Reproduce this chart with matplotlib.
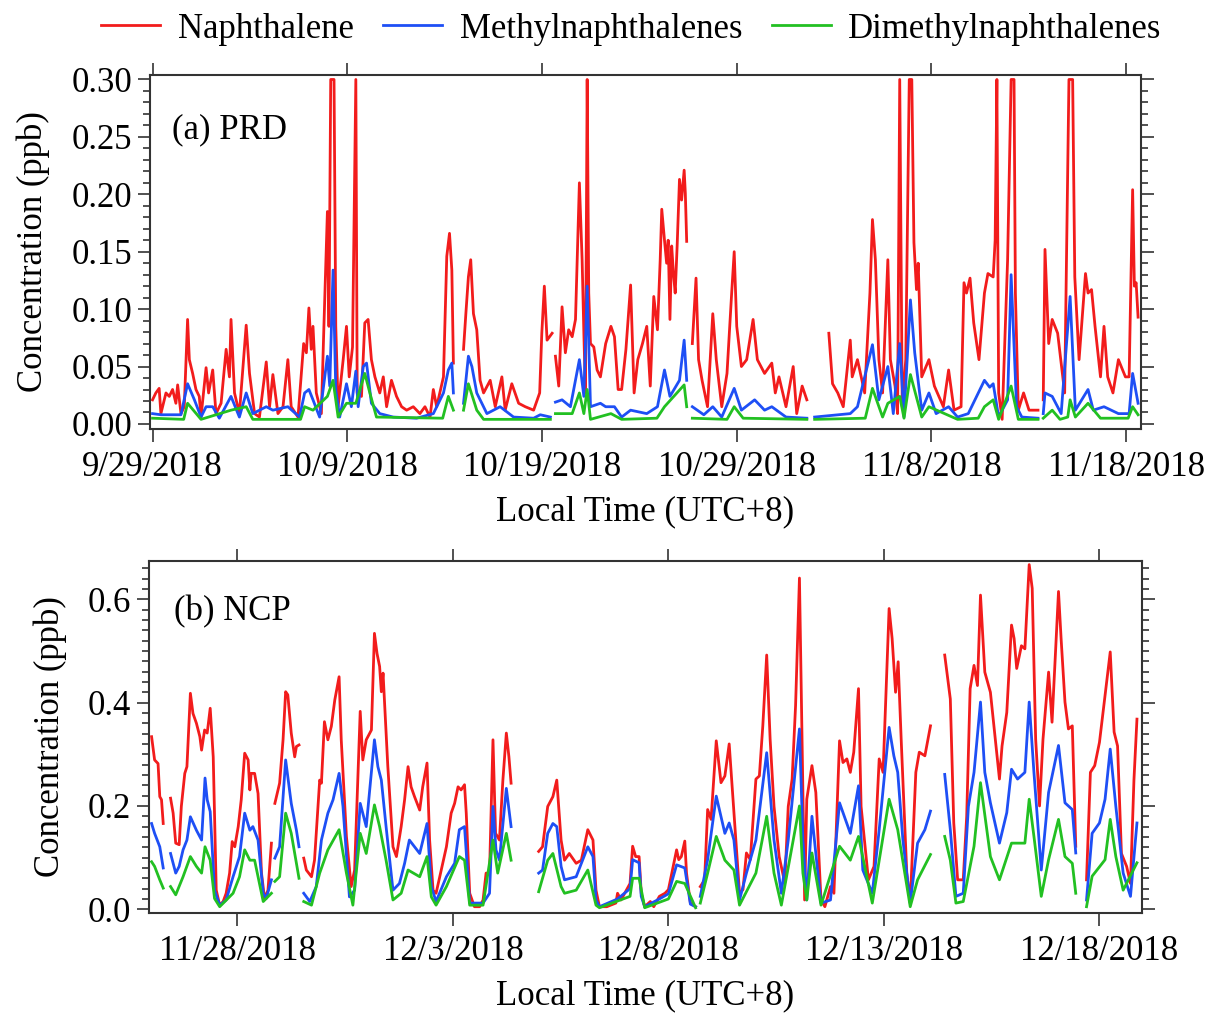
import numpy as np
import pandas as pd
import matplotlib
matplotlib.use('Agg')
import matplotlib.pyplot as plt
from matplotlib.ticker import MultipleLocator

plt.rcParams['font.family'] = 'Liberation Serif'
plt.rcParams['font.size'] = 25

nan = np.nan

# PRD: (days after 9/29/2018 00:00, ppb)
prd_nap = [
    (0.00, .021), (0.17, .027), (0.34, .031), (0.43, .009), (0.69, .027), (0.86, .024), (1.03, .030),
    (1.20, .018), (1.29, .034), (1.46, .009), (1.63, .015), (1.80, .091), (1.89, .056), (2.06, .044),
    (2.23, .030), (2.40, .024), (2.49, .006), (2.75, .049), (2.88, .027), (3.09, .047), (3.26, .009),
    (3.52, .018), (3.78, .065), (3.95, .041), (4.03, .091), (4.21, .027), (4.46, .009), (4.81, .086),
    (4.98, .044), (5.24, .009), (5.49, .006), (5.84, .054), (6.01, .015), (6.18, .043), (6.44, .009),
    (6.70, .015), (6.95, .056), (7.12, .015), (7.47, .006), (7.76, .070), (7.90, .062), (8.03, .101),
    (8.15, .065), (8.24, .085), (8.41, .027), (8.67, .009), (8.79, .079), (8.98, .185), (9.06, .085),
    (9.15, .300), (9.32, .300), (9.41, .085), (9.53, .015), (9.79, .056), (9.96, .085), (10.10, .041),
    (10.27, .067), (10.44, .300), (10.51, .027), (10.73, .024), (10.90, .088), (11.07, .091), (11.24, .056),
    (11.42, .041), (11.67, .027), (11.85, .041), (12.02, .015), (12.27, .038), (12.53, .024), (12.79, .015),
    (13.05, .012), (13.39, .015), (13.73, .009), (13.99, .015), (14.25, .006), (14.42, .030), (14.59, .015),
    (14.94, .041), (15.11, .146), (15.25, .166), (15.37, .134), (15.45, .053), (15.70, nan),
    (15.97, .065), (16.09, .096), (16.22, .128), (16.34, .143), (16.48, .096), (16.65, .082), (16.82, .038),
    (17.00, .027), (17.34, .038), (17.60, .015), (17.94, .041), (18.11, .012), (18.45, .035), (18.80, .018),
    (19.14, .015), (19.57, .012), (19.88, .027), (19.99, .079), (20.12, .120), (20.26, .073), (20.39, .076),
    (20.52, .079), (20.60, nan),
    (20.69, .059), (20.86, .033), (21.03, .102), (21.20, .062), (21.37, .082), (21.55, .076), (21.72, .091),
    (21.92, .210), (22.06, .143), (22.15, .079), (22.23, .027), (22.32, .300), (22.40, .114), (22.49, .070),
    (22.66, .067), (22.83, .047), (23.00, .041), (23.27, .070), (23.54, .085), (23.72, .076), (23.91, .030),
    (24.09, .030), (24.31, .065), (24.55, .121), (24.73, .027), (24.92, .056), (25.16, .070), (25.38, .085),
    (25.56, .033), (25.74, .111), (25.93, .082), (26.07, .143), (26.15, .187), (26.29, .160), (26.40, .140),
    (26.48, .160), (26.57, .091), (26.66, .155), (26.75, .131), (26.84, .114), (26.94, .155), (27.06, .213),
    (27.17, .195), (27.30, .221), (27.36, .201), (27.43, .159), (27.55, nan),
    (27.72, .070), (27.91, .127), (28.04, .056), (28.22, .038), (28.50, .015), (28.77, .096), (28.95, .056),
    (29.23, .015), (29.50, .044), (29.74, .114), (29.87, .150), (30.00, .085), (30.24, .050), (30.51, .056),
    (30.84, .091), (31.06, .056), (31.43, .044), (31.80, .053), (31.98, .027), (32.17, .041), (32.53, .015),
    (32.90, .050), (33.08, .009), (33.36, .033), (33.60, .021), (34.20, nan),
    (34.73, .079), (34.92, .035), (35.19, .027), (35.47, .015), (35.83, .073), (35.93, .041), (36.20, .056),
    (36.57, .027), (36.84, .114), (36.97, .178), (37.12, .143), (37.30, .056), (37.49, .027), (37.76, .143),
    (37.89, .056), (38.13, .033), (38.26, .009), (38.37, .300), (38.50, .015), (38.68, .056), (38.86, .300),
    (38.99, .300), (39.10, .158), (39.23, .117), (39.32, .140), (39.50, .041), (39.87, .056), (40.15, .033),
    (40.61, .015), (40.88, .047), (41.16, .012), (41.52, .015), (41.67, .123), (41.80, .114), (41.98, .127),
    (42.17, .088), (42.44, .056), (42.72, .114), (42.90, .131), (43.17, .128), (43.27, .160), (43.36, .300),
    (43.45, .027), (43.63, .004), (43.91, .143), (44.09, .300), (44.24, .300), (44.31, .114), (44.46, .012),
    (44.73, .027), (45.01, .012), (45.47, .012), (45.60, nan),
    (45.74, .021), (45.83, .152), (46.02, .070), (46.20, .091), (46.48, .079), (46.84, .027), (47.06, .300),
    (47.25, .300), (47.36, .128), (47.58, .056), (47.91, .131), (48.04, .114), (48.22, .117), (48.40, .085),
    (48.68, .041), (48.86, .085), (49.05, .041), (49.32, .027), (49.60, .056), (49.96, .041), (50.15, .041),
    (50.33, .204), (50.42, .120), (50.51, .123), (50.61, .093),
]
prd_mn = [
    (0.00, .009), (0.43, .008), (1.46, .008), (1.80, .035), (2.15, .021), (2.49, .006), (2.75, .015),
    (3.09, .015), (3.43, .005), (4.03, .024), (4.46, .006), (4.81, .027), (5.15, .009), (5.84, .015),
    (6.18, .012), (6.95, .015), (7.55, .006), (7.81, .027), (8.03, .030), (8.24, .021), (8.58, .006),
    (8.98, .059), (9.10, .033), (9.27, .134), (9.41, .030), (9.61, .006), (9.96, .035), (10.21, .015),
    (10.44, .046), (10.56, .015), (10.82, .050), (10.99, .053), (11.24, .018), (11.67, .009), (12.36, .006),
    (13.56, .005), (14.42, .009), (14.94, .027), (15.19, .047), (15.37, .053), (15.45, .027), (15.70, nan),
    (15.97, .018), (16.22, .059), (16.40, .050), (16.65, .027), (17.17, .009), (17.85, .015), (18.54, .006),
    (19.57, .005), (19.91, .008), (20.43, .006), (20.60, nan),
    (20.69, .019), (21.03, .021), (21.46, .015), (21.92, .056), (22.15, .024), (22.32, .120), (22.49, .015),
    (23.00, .018), (23.27, .015), (23.72, .015), (24.09, .006), (24.55, .012), (25.38, .009), (25.93, .015),
    (26.29, .047), (26.57, .024), (27.06, .038), (27.30, .073), (27.43, .038), (27.55, nan),
    (27.72, .015), (28.31, .008), (28.77, .015), (29.23, .006), (29.87, .031), (30.24, .012), (30.92, .021),
    (31.43, .012), (31.80, .015), (32.53, .006), (33.60, .005), (33.80, nan),
    (34.00, .006), (35.83, .009), (36.20, .015), (36.97, .069), (37.30, .021), (37.76, .050), (38.04, .009),
    (38.37, .070), (38.59, .006), (38.92, .108), (39.14, .062), (39.50, .012), (39.87, .027), (40.24, .009),
    (40.88, .015), (41.34, .006), (41.89, .009), (42.72, .038), (42.99, .032), (43.17, .035), (43.45, .006),
    (43.91, .021), (44.09, .130), (44.37, .015), (44.64, .006), (45.47, .005), (45.60, nan),
    (45.74, .009), (45.83, .027), (46.20, .024), (46.66, .009), (47.12, .111), (47.39, .012), (48.04, .030),
    (48.31, .012), (48.86, .015), (49.60, .009), (50.15, .009), (50.33, .044), (50.61, .018),
]
prd_dmn = [
    (0.00, .005), (1.60, .004), (1.80, .018), (2.49, .004), (4.03, .012), (4.81, .015), (5.15, .004),
    (7.60, .004), (7.81, .015), (8.24, .012), (8.98, .024), (9.27, .038), (9.53, .006), (9.96, .018),
    (10.44, .018), (10.90, .044), (11.16, .027), (11.50, .006), (14.90, .005), (15.19, .024), (15.45, .012),
    (15.70, nan),
    (15.97, .012), (16.22, .035), (16.65, .012), (17.00, .004), (19.91, .004), (20.43, .004), (20.60, nan),
    (20.69, .009), (21.55, .009), (21.92, .027), (22.15, .009), (22.32, .030), (22.49, .004), (23.54, .009),
    (24.09, .004), (25.90, .005), (26.29, .015), (27.30, .034), (27.43, .015), (27.55, nan),
    (27.72, .005), (29.50, .004), (29.87, .015), (30.33, .005), (33.60, .004), (33.80, nan),
    (34.00, .004), (36.60, .005), (36.97, .031), (37.49, .006), (37.76, .018), (38.37, .024), (38.59, .005),
    (38.92, .043), (39.50, .006), (39.87, .015), (41.34, .004), (42.40, .005), (42.72, .015), (43.17, .021),
    (43.45, .004), (44.09, .033), (44.46, .004), (45.47, .004), (45.60, nan),
    (45.74, .005), (46.20, .012), (46.60, .004), (47.00, .006), (47.12, .021), (47.39, .006), (48.04, .018),
    (48.68, .005), (50.10, .005), (50.33, .015), (50.61, .008),
]

# NCP: (days after 11/28/2018 00:00, ppb)
ncp_nap = [
    (-1.99, .334), (-1.92, .289), (-1.84, .282), (-1.80, .218), (-1.76, .212), (-1.72, .166), (-1.63, nan),
    (-1.55, .215), (-1.49, .186), (-1.43, .128), (-1.35, .125), (-1.30, .199), (-1.22, .263), (-1.17, .276),
    (-1.09, .418), (-1.03, .379), (-0.95, .360), (-0.87, .334), (-0.83, .308), (-0.76, .347), (-0.70, .341),
    (-0.63, .389), (-0.56, .295), (-0.49, .037), (-0.41, .008), (-0.33, .015), (-0.26, .031), (-0.18, .070),
    (-0.12, .131), (-0.06, .121), (0.02, .160), (0.09, .212), (0.17, .302), (0.25, .289), (0.29, .231),
    (0.32, .263), (0.40, .263), (0.48, .224), (0.56, .070), (0.63, .021), (0.71, .037), (0.79, .128), (0.83, nan),
    (0.87, .205), (0.98, .244), (1.06, .328), (1.12, .421), (1.17, .415), (1.25, .341), (1.33, .295),
    (1.37, .315), (1.43, .318), (1.49, nan),
    (1.54, .099), (1.60, .076), (1.72, .063), (1.79, .095), (1.91, .250), (1.95, .244), (2.02, .363),
    (2.10, .328), (2.18, .354), (2.26, .405), (2.36, .450), (2.41, .328), (2.53, .141), (2.64, .044),
    (2.72, .076), (2.85, .383), (2.91, .289), (2.99, .328), (3.11, .347), (3.18, .534), (3.24, .495),
    (3.30, .470), (3.34, .421), (3.38, .457), (3.49, .277), (3.61, .121), (3.69, .102), (3.80, .160),
    (3.88, .212), (3.96, .276), (4.03, .237), (4.11, .218), (4.23, .192), (4.30, .237), (4.40, .283),
    (4.46, .134), (4.54, .037), (4.61, .031), (4.73, .076), (4.85, .121), (4.96, .186), (5.04, .205),
    (5.12, .237), (5.19, .231), (5.27, .241), (5.31, .186), (5.39, .031), (5.50, .005), (5.62, .005),
    (5.70, .018), (5.77, .070), (5.85, .070), (5.93, .328), (5.99, .147), (6.08, .134), (6.16, .250),
    (6.24, .341), (6.30, .295), (6.35, .244), (6.60, nan),
    (6.99, .112), (7.08, .121), (7.20, .199), (7.32, .218), (7.41, .250), (7.51, .134), (7.59, .095),
    (7.70, .108), (7.86, .089), (7.98, .095), (8.13, .154), (8.25, .134), (8.32, .037), (8.40, .005),
    (8.57, .005), (8.78, .012), (8.82, .031), (8.90, .018), (9.11, .050), (9.17, .122), (9.24, .102),
    (9.32, .102), (9.37, .031), (9.45, .005), (9.58, .015), (9.66, .005), (9.79, .025), (9.92, .031),
    (10.00, .038), (10.13, .090), (10.19, .115), (10.24, .096), (10.30, .102), (10.38, .132), (10.42, .070),
    (10.51, .012), (10.63, .005), (10.68, nan),
    (10.74, .044), (10.84, .057), (10.91, .193), (10.99, .174), (11.11, .326), (11.22, .245), (11.31, .258),
    (11.41, .320), (11.52, .187), (11.65, .031), (11.73, .038), (11.81, .109), (11.90, .096), (12.03, .252),
    (12.11, .258), (12.19, .355), (12.28, .492), (12.36, .329), (12.45, .199), (12.57, .102), (12.70, .051),
    (12.78, .199), (12.87, .252), (12.95, .394), (13.04, .641), (13.10, .329), (13.16, .018), (13.21, .213),
    (13.33, .278), (13.42, .226), (13.54, .018), (13.63, .005), (13.76, .044), (13.84, .031), (13.97, .326),
    (14.05, .284), (14.14, .291), (14.22, .265), (14.30, .304), (14.41, .427), (14.47, .199), (14.64, .057),
    (14.77, .083), (14.89, .291), (14.98, .265), (15.12, .582), (15.19, .524), (15.27, .420), (15.33, .479),
    (15.40, .329), (15.53, .070), (15.61, .012), (15.74, .265), (15.82, .304), (15.95, .297), (16.08, .355),
    (16.25, nan),
    (16.41, .492), (16.54, .407), (16.62, .167), (16.71, .057), (16.84, .057), (16.92, .180), (17.00, .427),
    (17.09, .472), (17.17, .433), (17.24, .608), (17.34, .459), (17.47, .420), (17.59, .323), (17.68, .252),
    (17.74, .316), (17.85, .381), (17.96, .550), (18.02, .524), (18.08, .466), (18.19, .510), (18.27, .504),
    (18.37, .667), (18.44, .621), (18.52, .329), (18.61, .200), (18.69, .329), (18.82, .459), (18.90, .362),
    (19.05, .615), (19.11, .524), (19.20, .401), (19.28, .349), (19.37, .355), (19.45, .122), (19.58, nan),
    (19.70, .057), (19.79, .265), (19.89, .278), (20.00, .323), (20.13, .414), (20.25, .498), (20.34, .343),
    (20.42, .316), (20.51, .108), (20.63, .083), (20.72, .050), (20.80, .250), (20.87, .368),
]
ncp_mn = [
    (-1.99, .166), (-1.92, .147), (-1.80, .121), (-1.72, .080), (-1.63, nan),
    (-1.55, .108), (-1.43, .070), (-1.35, .083), (-1.26, .115), (-1.17, .134), (-1.09, .179), (-0.95, .153),
    (-0.83, .134), (-0.75, .254), (-0.70, .212), (-0.63, .189), (-0.53, .037), (-0.41, .008), (-0.26, .018),
    (-0.10, .063), (0.05, .102), (0.17, .186), (0.29, .153), (0.36, .160), (0.48, .134), (0.60, .031),
    (0.67, .021), (0.79, .057), (0.83, nan),
    (0.87, .099), (0.98, .121), (1.12, .289), (1.25, .205), (1.37, .153), (1.43, .121), (1.49, nan),
    (1.54, .031), (1.68, .015), (1.83, .044), (1.95, .134), (2.10, .186), (2.22, .212), (2.36, .263),
    (2.45, .199), (2.60, .024), (2.72, .037), (2.85, .205), (2.99, .160), (3.18, .328), (3.26, .276),
    (3.34, .250), (3.45, .160), (3.61, .037), (3.76, .050), (3.88, .089), (3.99, .134), (4.11, .121),
    (4.23, .108), (4.40, .166), (4.50, .044), (4.61, .015), (4.85, .063), (5.04, .089), (5.15, .154),
    (5.27, .160), (5.39, .012), (5.70, .012), (5.85, .031), (5.93, .199), (6.00, .115), (6.08, .095),
    (6.24, .234), (6.35, .160), (6.60, nan),
    (6.99, .070), (7.08, .076), (7.20, .147), (7.32, .166), (7.41, .160), (7.51, .083), (7.59, .057),
    (7.86, .063), (8.13, .121), (8.25, .102), (8.32, .018), (8.40, .005), (8.82, .020), (9.11, .040),
    (9.17, .096), (9.32, .090), (9.37, .025), (9.45, .005), (9.79, .020), (10.00, .030), (10.19, .086),
    (10.38, .080), (10.51, .010), (10.63, .005), (10.68, nan),
    (10.74, .025), (10.91, .096), (11.11, .219), (11.31, .147), (11.41, .167), (11.52, .134), (11.65, .018),
    (11.81, .070), (12.03, .134), (12.28, .303), (12.45, .134), (12.62, .031), (12.78, .134), (13.04, .349),
    (13.12, .134), (13.21, .018), (13.33, .180), (13.54, .012), (13.76, .018), (13.97, .206), (14.22, .147),
    (14.41, .239), (14.51, .076), (14.73, .031), (14.89, .154), (15.12, .352), (15.23, .297), (15.32, .265),
    (15.44, .134), (15.61, .012), (15.78, .128), (15.95, .154), (16.08, .190), (16.25, nan),
    (16.41, .261), (16.54, .154), (16.67, .025), (16.84, .031), (16.96, .199), (17.09, .265), (17.24, .401),
    (17.34, .265), (17.47, .206), (17.68, .128), (17.85, .187), (17.96, .271), (18.10, .252), (18.27, .265),
    (18.37, .401), (18.48, .265), (18.65, .076), (18.82, .226), (19.05, .317), (19.20, .206), (19.37, .193),
    (19.45, .109), (19.58, nan),
    (19.70, .018), (19.83, .147), (20.00, .167), (20.13, .213), (20.25, .310), (20.38, .199), (20.55, .070),
    (20.72, .025), (20.87, .167),
]
ncp_dmn = [
    (-1.99, .092), (-1.92, .083), (-1.80, .057), (-1.72, .041), (-1.63, nan),
    (-1.55, .044), (-1.43, .028), (-1.26, .063), (-1.09, .102), (-0.95, .083), (-0.83, .070), (-0.75, .121),
    (-0.63, .095), (-0.53, .021), (-0.41, .005), (-0.10, .031), (0.05, .063), (0.17, .115), (0.29, .095),
    (0.40, .095), (0.60, .015), (0.79, .031), (0.83, nan),
    (0.87, .054), (0.98, .063), (1.12, .186), (1.25, .147), (1.43, .060), (1.49, nan),
    (1.54, .015), (1.72, .008), (1.91, .070), (2.10, .115), (2.36, .154), (2.53, .070), (2.68, .008),
    (2.85, .147), (2.99, .108), (3.18, .202), (3.30, .160), (3.45, .095), (3.61, .018), (3.80, .031),
    (3.96, .076), (4.23, .063), (4.40, .102), (4.50, .024), (4.61, .008), (4.85, .044), (5.15, .102),
    (5.27, .095), (5.39, .008), (5.70, .008), (5.93, .134), (6.04, .070), (6.24, .147), (6.35, .095),
    (6.60, nan),
    (6.99, .034), (7.20, .095), (7.32, .108), (7.51, .044), (7.59, .031), (7.86, .037), (8.13, .076),
    (8.32, .008), (8.40, .003), (9.11, .025), (9.17, .060), (9.32, .060), (9.45, .003), (10.00, .020),
    (10.19, .054), (10.38, .050), (10.63, .003), (10.68, nan),
    (10.74, .012), (10.91, .070), (11.11, .141), (11.31, .095), (11.52, .076), (11.65, .008), (12.03, .070),
    (12.28, .180), (12.45, .070), (12.62, .008), (13.04, .200), (13.12, .070), (13.21, .018), (13.33, .109),
    (13.54, .008), (13.97, .122), (14.22, .095), (14.41, .141), (14.73, .012), (15.12, .213), (15.32, .154),
    (15.61, .005), (15.78, .057), (16.08, .106), (16.25, nan),
    (16.41, .141), (16.54, .095), (16.67, .012), (16.84, .015), (17.09, .122), (17.24, .245), (17.47, .102),
    (17.68, .057), (17.96, .128), (18.27, .128), (18.37, .213), (18.48, .141), (18.65, .025), (18.82, .096),
    (19.05, .174), (19.20, .102), (19.37, .089), (19.45, .031), (19.58, nan),
    (19.70, .005), (19.83, .064), (20.13, .096), (20.25, .174), (20.38, .102), (20.55, .037), (20.87, .090),
]

series_names = ['Naphthalene', 'Methylnaphthalenes', 'Dimethylnaphthalenes']
series_colors = ['#f21c1c', '#1e4ff5', '#22c022']

prd_ticks = ['9/29/2018', '10/9/2018', '10/19/2018', '10/29/2018', '11/8/2018', '11/18/2018']
ncp_ticks = ['11/28/2018', '12/3/2018', '12/8/2018', '12/13/2018', '12/18/2018']


def to_xy(start, pairs):
    arr = np.array(pairs, dtype=float)
    x = pd.Timestamp(start) + pd.to_timedelta(arr[:, 0], unit='D')
    return x, arr[:, 1]


def style_axes(ax, minor):
    for s in ax.spines.values():
        s.set_linewidth(1.5)
        s.set_color('#333333')
    ax.yaxis.set_minor_locator(MultipleLocator(minor))
    ax.tick_params(which='both', direction='out', top=True, right=True, labeltop=False,
                   labelright=False, width=1.2, color='#333333')
    ax.tick_params(which='major', length=9, pad=4)
    ax.tick_params(which='minor', length=5)
    ax.tick_params(axis='x', which='major', pad=7)
    ax.set_xlabel('Local Time (UTC+8)', labelpad=8)
    ax.set_ylabel('Concentration (ppb)', labelpad=15)


fig = plt.figure(figsize=(12.07, 10.14), dpi=100)
W, H = 1207, 1014
ax1 = fig.add_axes([150 / W, 1 - 429 / H, 991 / W, 354 / H])
ax2 = fig.add_axes([149 / W, 1 - 912.7 / H, 992.7 / W, 351.7 / H])

lines = []
for data, c, name in zip([prd_nap, prd_mn, prd_dmn], series_colors, series_names):
    x, y = to_xy('2018-09-29', data)
    ln, = ax1.plot(x, y, color=c, lw=2.0, label=name)
    lines.append(ln)
for data, c in zip([ncp_nap, ncp_mn, ncp_dmn], series_colors):
    x, y = to_xy('2018-11-28', data)
    ax2.plot(x, y, color=c, lw=2.0)

t0 = pd.Timestamp('2018-09-29')
ax1.set_xlim(t0 - pd.Timedelta(days=0.13), t0 + pd.Timedelta(days=50.76))
ax1.set_xticks([t0 + pd.Timedelta(days=10 * i) for i in range(len(prd_ticks))])
ax1.set_xticklabels(prd_ticks)
ax1.set_ylim(-0.0044, 0.3039)
ax1.set_yticks(np.arange(0, 0.31, 0.05))
ax1.set_yticklabels(['%.2f' % v for v in np.arange(0, 0.31, 0.05)])
style_axes(ax1, 0.01)
ax1.text(0.022, 0.845, '(a) PRD', transform=ax1.transAxes, va='center', ha='left')

t1 = pd.Timestamp('2018-11-28')
ax2.set_xlim(t1 - pd.Timedelta(days=2.05), t1 + pd.Timedelta(days=20.98))
ax2.set_xticks([t1 + pd.Timedelta(days=5 * i) for i in range(len(ncp_ticks))])
ax2.set_xticklabels(ncp_ticks)
ax2.set_ylim(-0.0066, 0.674)
ax2.set_yticks([0.0, 0.2, 0.4, 0.6])
ax2.set_yticklabels(['0.0', '0.2', '0.4', '0.6'])
style_axes(ax2, 0.02)
ax2.text(0.025, 0.855, '(b) NCP', transform=ax2.transAxes, va='center', ha='left')

fig.legend(handles=lines, loc='center', bbox_to_anchor=(0.523, 1 - 29 / H), ncol=3, frameon=False,
           handlelength=1.7, handletextpad=0.5, columnspacing=0.85, borderaxespad=0)

fig.savefig('out.png', dpi=100)
